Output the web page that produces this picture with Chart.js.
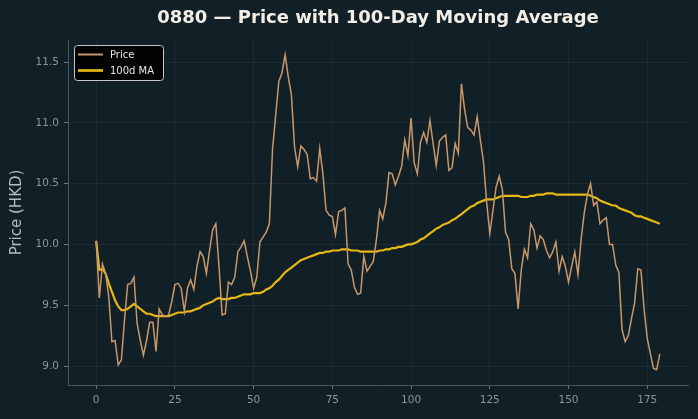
<!DOCTYPE html>
<html>
<head>
<meta charset="utf-8">
<script src="https://cdn.jsdelivr.net/npm/chart.js@4/dist/chart.umd.min.js"></script>
<style>
html,body{margin:0;padding:0;background:#111f26;}
#wrap{width:698px;height:419px;}
</style>
</head>
<body>
<div id="wrap"><canvas id="c" width="698" height="419"></canvas></div>
<script>
const chartTitle = "0880 — Price with 100-Day Moving Average";
const yAxisTitle = "Price (HKD)";
const seriesNames = ["Price", "100d MA"];
const xTickValues = [0, 25, 50, 75, 100, 125, 150, 175];
const yTickValues = [9.0, 9.5, 10.0, 10.5, 11.0, 11.5];
const yTickLabels = ["9.0", "9.5", "10.0", "10.5", "11.0", "11.5"];

const priceValues = [
  10.03, 9.56, 9.84, 9.76, 9.57, 9.20, 9.21, 9.01, 9.05, 9.38,
  9.67, 9.68, 9.73, 9.35, 9.21, 9.09, 9.21, 9.36, 9.36, 9.12,
  9.47, 9.42, 9.41, 9.42, 9.53, 9.67, 9.68, 9.64, 9.45, 9.64,
  9.71, 9.63, 9.82, 9.94, 9.90, 9.76, 9.95, 10.12, 10.17, 9.82,
  9.42, 9.43, 9.69, 9.67, 9.73, 9.94, 9.98, 10.03, 9.90, 9.78,
  9.64, 9.73, 10.02, 10.06, 10.10, 10.17, 10.78, 11.06, 11.34, 11.41,
  11.56, 11.38, 11.23, 10.80, 10.64, 10.81, 10.78, 10.74, 10.54, 10.55,
  10.52, 10.79, 10.58, 10.28, 10.24, 10.23, 10.08, 10.27, 10.28, 10.30,
  9.84, 9.79, 9.65, 9.59, 9.60, 9.90, 9.78, 9.82, 9.86, 10.04,
  10.28, 10.21, 10.34, 10.59, 10.58, 10.49, 10.56, 10.64, 10.86, 10.73,
  11.04, 10.67, 10.58, 10.84, 10.92, 10.84, 11.02, 10.83, 10.65, 10.85,
  10.88, 10.90, 10.61, 10.63, 10.83, 10.75, 11.32, 11.11, 10.96, 10.94,
  10.90, 11.05, 10.86, 10.68, 10.35, 10.09, 10.28, 10.47, 10.56, 10.45,
  10.10, 10.04, 9.80, 9.76, 9.47, 9.79, 9.96, 9.89, 10.17, 10.12,
  9.97, 10.07, 10.04, 9.95, 9.89, 9.94, 10.02, 9.78, 9.90, 9.82,
  9.69, 9.82, 9.94, 9.75, 10.04, 10.26, 10.41, 10.50, 10.32, 10.35,
  10.17, 10.20, 10.22, 10.00, 10.00, 9.83, 9.77, 9.30, 9.20, 9.25,
  9.39, 9.52, 9.80, 9.79, 9.47, 9.23, 9.10, 8.98, 8.97, 9.10
];

const maValues = [
  10.03, 9.79, 9.80, 9.76, 9.68, 9.61, 9.54, 9.49, 9.46, 9.46,
  9.47, 9.49, 9.51, 9.49, 9.47, 9.45, 9.43, 9.43, 9.42, 9.41,
  9.41, 9.41, 9.41, 9.41, 9.42, 9.43, 9.44, 9.44, 9.44, 9.45,
  9.45, 9.46, 9.47, 9.48, 9.50, 9.51, 9.52, 9.53, 9.55, 9.56,
  9.55, 9.55, 9.55, 9.56, 9.56, 9.57, 9.58, 9.59, 9.59, 9.59,
  9.60, 9.60, 9.60, 9.61, 9.63, 9.64, 9.66, 9.69, 9.71, 9.74,
  9.77, 9.79, 9.81, 9.83, 9.85, 9.87, 9.88, 9.89, 9.90, 9.91,
  9.92, 9.93, 9.93, 9.94, 9.94, 9.95, 9.95, 9.95, 9.96, 9.96,
  9.96, 9.95, 9.95, 9.95, 9.94, 9.94, 9.94, 9.94, 9.94, 9.94,
  9.95, 9.95, 9.96, 9.96, 9.97, 9.97, 9.98, 9.98, 9.99, 10.00,
  10.00, 10.01, 10.02, 10.04, 10.05, 10.07, 10.09, 10.11, 10.13, 10.14,
  10.16, 10.17, 10.18, 10.20, 10.21, 10.23, 10.25, 10.27, 10.29, 10.31,
  10.32, 10.34, 10.35, 10.36, 10.37, 10.37, 10.37, 10.38, 10.39, 10.40,
  10.40, 10.40, 10.40, 10.40, 10.40, 10.39, 10.39, 10.39, 10.40, 10.40,
  10.41, 10.41, 10.41, 10.42, 10.42, 10.42, 10.41, 10.41, 10.41, 10.41,
  10.41, 10.41, 10.41, 10.41, 10.41, 10.41, 10.41, 10.40, 10.39, 10.38,
  10.36, 10.35, 10.34, 10.33, 10.32, 10.32, 10.30, 10.29, 10.28, 10.27,
  10.26, 10.24, 10.23, 10.23, 10.22, 10.21, 10.20, 10.19, 10.18, 10.17
];

const BG = '#111f26';
const PRICE_COLOR = '#c9976a';
const MA_COLOR = '#e6b814';
const FONT = "'DejaVu Sans', sans-serif";

const bgPlugin = {
  id: 'bg',
  beforeDraw(chart) {
    const ctx = chart.ctx;
    ctx.save();
    ctx.fillStyle = BG;
    ctx.fillRect(0, 0, chart.width, chart.height);
    ctx.restore();
  }
};

const titlePlugin = {
  id: 'axTitle',
  afterDraw(chart) {
    const ctx = chart.ctx;
    const a = chart.chartArea;
    ctx.save();
    ctx.fillStyle = '#f2eee6';
    ctx.font = "bold 18px " + FONT;
    ctx.textAlign = 'center';
    ctx.textBaseline = 'middle';
    ctx.fillText(chartTitle, (a.left + a.right) / 2, 18.5);
    ctx.restore();
  }
};

const legendPlugin = {
  id: 'boxLegend',
  afterDraw(chart) {
    const ctx = chart.ctx;
    const a = chart.chartArea;
    const x = a.left + 6, y = a.top + 5, w = 89, h = 35;
    ctx.save();
    ctx.beginPath();
    if (ctx.roundRect) ctx.roundRect(x + 0.5, y + 0.5, w, h, 3); else ctx.rect(x + 0.5, y + 0.5, w, h);
    ctx.fillStyle = 'rgba(0,0,0,0.88)';
    ctx.fill();
    ctx.strokeStyle = '#c8c8c8';
    ctx.lineWidth = 1;
    ctx.stroke();
    const ds = chart.data.datasets;
    ds.forEach((d, k) => {
      const ly = y + 9.5 + k * 16;
      ctx.beginPath();
      ctx.moveTo(x + 4, ly);
      ctx.lineTo(x + 29, ly);
      ctx.strokeStyle = d.borderColor;
      ctx.lineWidth = d.borderWidth + 0.5;
      ctx.stroke();
      ctx.fillStyle = '#e6e6e6';
      ctx.font = "10px " + FONT;
      ctx.textBaseline = 'middle';
      ctx.textAlign = 'left';
      ctx.fillText(d.label, x + 36, ly + 0.5);
    });
    ctx.restore();
  }
};

const ctx = document.getElementById('c').getContext('2d');
new Chart(ctx, {
  type: 'line',
  data: {
    datasets: [
      {
        label: seriesNames[0],
        data: priceValues.map((v, i) => ({x: i, y: v})),
        borderColor: PRICE_COLOR,
        borderWidth: 1.5,
        pointRadius: 0,
        tension: 0,
        fill: false
      },
      {
        label: seriesNames[1],
        data: maValues.map((v, i) => ({x: i, y: v})),
        borderColor: MA_COLOR,
        borderWidth: 2.2,
        pointRadius: 0,
        tension: 0,
        fill: false
      }
    ]
  },
  options: {
    responsive: false,
    animation: false,
    devicePixelRatio: 1,
    layout: {padding: {left: 0, right: 10, top: 40, bottom: 0}},
    plugins: {
      legend: {display: false},
      tooltip: {enabled: false},
      title: {display: false}
    },
    scales: {
      x: {
        type: 'linear',
        min: -8.95,
        max: 187.95,
        afterFit(s) { s.height = 34; },
        afterBuildTicks(s) { s.ticks = xTickValues.map(v => ({value: v})); },
        ticks: {
          color: '#8c969b',
          font: {family: FONT, size: 10.5},
          padding: 5,
          maxRotation: 0,
          callback: v => String(v)
        },
        grid: {
          color: 'rgba(255,255,255,0.05)',
          tickColor: '#6f787c',
          tickLength: 4,
          lineWidth: 1
        },
        border: {display: true, color: '#4a5559', width: 1}
      },
      y: {
        min: 8.844,
        max: 11.681,
        afterFit(s) { s.width = 68; },
        afterBuildTicks(s) { s.ticks = yTickValues.map(v => ({value: v})); },
        title: {
          display: true,
          text: yAxisTitle,
          color: '#b4bcc0',
          font: {family: FONT, size: 15},
          padding: {top: 8, bottom: 0}
        },
        ticks: {
          color: '#8c969b',
          font: {family: FONT, size: 10.5},
          padding: 5,
          callback: (v) => {
            const k = yTickValues.indexOf(v);
            return k >= 0 ? yTickLabels[k] : '';
          }
        },
        grid: {
          color: 'rgba(255,255,255,0.05)',
          tickColor: '#6f787c',
          tickLength: 4,
          lineWidth: 1
        },
        border: {display: true, color: '#4a5559', width: 1}
      }
    }
  },
  plugins: [bgPlugin, titlePlugin, legendPlugin]
});
</script>
</body>
</html>
